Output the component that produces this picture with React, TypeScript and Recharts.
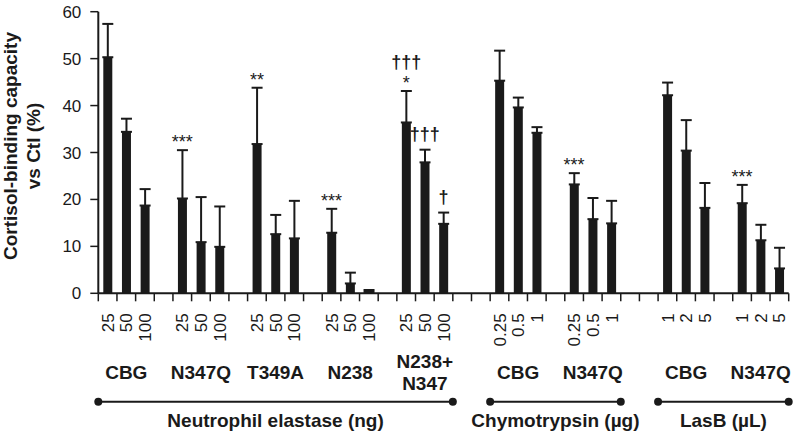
import { Bar, ComposedChart, ErrorBar, Scatter, XAxis, YAxis } from "recharts";

const groups = ["CBG", "N347Q", "T349A", "N238", "N238+\nN347", "CBG", "N347Q", "CBG", "N347Q"];

const doses = [
  ["25", "50", "100"],
  ["25", "50", "100"],
  ["25", "50", "100"],
  ["25", "50", "100"],
  ["25", "50", "100"],
  ["0.25", "0.5", "1"],
  ["0.25", "0.5", "1"],
  ["1", "2", "5"],
  ["1", "2", "5"],
];

const means = [
  [50.3, 34.4, 18.7],
  [20.2, 10.9, 9.9],
  [31.8, 12.6, 11.7],
  [12.9, 2.1, 0.3],
  [36.4, 27.9, 14.8],
  [45.3, 39.6, 34.2],
  [23.2, 15.8, 14.9],
  [42.2, 30.4, 18.2],
  [19.2, 11.3, 5.3],
];

const errors = [
  [7.1, 2.8, 3.5],
  [10.3, 9.6, 8.6],
  [12.0, 4.1, 8.0],
  [5.1, 2.3, 0.4],
  [6.7, 2.7, 2.4],
  [6.4, 2.1, 1.2],
  [2.4, 4.5, 4.8],
  [2.7, 6.5, 5.3],
  [3.9, 3.3, 4.4],
];

const marks = [
  ["", "", ""],
  ["***", "", ""],
  ["**", "", ""],
  ["***", "", ""],
  ["†††\n*", "†††", "†"],
  ["", "", ""],
  ["***", "", ""],
  ["", "", ""],
  ["***", "", ""],
];

const sections = [
  { label: "Neutrophil elastase (ng)", groups: [0, 1, 2, 3, 4] },
  { label: "Chymotrypsin (µg)", groups: [5, 6] },
  { label: "LasB (µL)", groups: [7, 8] },
];

const yTicks = [0, 10, 20, 30, 40, 50, 60];

type Row = {
  k: string;
  dose: string;
  mean?: number;
  errRange?: [number, number];
  capTop?: number;
  mark?: string;
  group?: string;
};

const rows: Row[] = [];
const spans: { label: string; from: number; to: number }[] = [];
const gap = () => rows.push({ k: "g" + rows.length, dose: "" });

sections.forEach((sec, si) => {
  if (si > 0) {
    gap();
    gap();
  }
  const from = rows.length;
  sec.groups.forEach((g, gi) => {
    if (gi > 0) gap();
    doses[g].forEach((d, i) => {
      rows.push({
        k: "s" + rows.length,
        dose: d,
        mean: means[g][i],
        errRange: [0, errors[g][i]],
        capTop: means[g][i] + errors[g][i],
        mark: marks[g][i],
        group: i === 1 ? groups[g] : undefined,
      });
    });
  });
  spans.push({ label: sec.label, from, to: rows.length });
});

const INK = "#1a1a1a";
const FONT = "'Liberation Sans', Arial, Helvetica, sans-serif";

function XTick(props: any) {
  const { x, y, payload, index } = props;
  const row = rows[index];
  const half = payload?.offset ?? 9.33;
  const band = half * 2;
  const left = x - half;
  const span = spans.find((s) => s.from === index);
  const groupLines = row.group ? row.group.split("\n") : [];
  return (
    <g>
      <line x1={left} y1={y} x2={left} y2={y + 8} stroke={INK} strokeWidth={1.5} />
      {index === rows.length - 1 && (
        <line x1={x + half} y1={y} x2={x + half} y2={y + 8} stroke={INK} strokeWidth={1.5} />
      )}
      {row.dose && (
        <text
          x={x}
          y={y + 20}
          dy="0.36em"
          transform={`rotate(-90, ${x}, ${y + 20})`}
          textAnchor="end"
          fontSize={17}
          fill={INK}
        >
          {row.dose}
        </text>
      )}
      {groupLines.length === 1 && (
        <text x={x} y={y + 86} textAnchor="middle" fontSize={19} fontWeight="bold" fill={INK}>
          {groupLines[0]}
        </text>
      )}
      {groupLines.length === 2 &&
        groupLines.map((t, i) => (
          <text key={i} x={x} y={y + 74.4 + i * 22.3} textAnchor="middle" fontSize={19} fontWeight="bold" fill={INK}>
            {t}
          </text>
        ))}
      {span && (() => {
        const x1 = left + (span.from - index) * band;
        const x2 = left + (span.to - index) * band;
        const ly = y + 108.4;
        return (
          <g>
            <line x1={x1} y1={ly} x2={x2} y2={ly} stroke={INK} strokeWidth={2} />
            <circle cx={x1} cy={ly} r={4} fill={INK} />
            <circle cx={x2} cy={ly} r={4} fill={INK} />
            <text x={(x1 + x2) / 2} y={y + 134} textAnchor="middle" fontSize={19} fontWeight="bold" fill={INK}>
              {span.label}
            </text>
          </g>
        );
      })()}
    </g>
  );
}

function Mark(props: any) {
  const { cx, cy, payload } = props;
  const lines = (payload?.mark || "").split("\n").filter(Boolean);
  if (!lines.length || !Number.isFinite(cy)) return <g />;
  const last = lines[lines.length - 1];
  const base = cy - (last.includes("†") ? 10 : 2);
  return (
    <g>
      {lines.map((t: string, i: number) => (
        <text
          key={i}
          x={cx}
          y={base - (lines.length - 1 - i) * 21}
          textAnchor="middle"
          fontSize={18}
          fontWeight={t.includes("†") ? "bold" : "normal"}
          fill={INK}
        >
          {t}
        </text>
      ))}
    </g>
  );
}

function YLabel() {
  return (
    <g fontWeight="bold" fontSize={19} fill={INK}>
      <text x={17} y={146} textAnchor="middle" transform="rotate(-90, 17, 146)">
        Cortisol-binding capacity
      </text>
      <text x={40} y={146} textAnchor="middle" transform="rotate(-90, 40, 146)">
        vs Ctl (%)
      </text>
    </g>
  );
}

export default function App() {
  return (
    <div style={{ position: "absolute", left: 0, top: 0, width: 793, height: 436, background: "#fff", fontFamily: FONT }}>
      <ComposedChart width={793} height={436} data={rows} margin={{ top: 11.7, right: 4.3, left: 0, bottom: 0 }}>
        <XAxis
          dataKey="k"
          type="category"
          interval={0}
          height={142.7}
          tickLine={false}
          tickSize={0}
          tickMargin={0}
          axisLine={{ stroke: INK, strokeWidth: 2 }}
          tick={(p: any) => <XTick {...p} />}
        />
        <YAxis
          domain={[0, 60]}
          ticks={yTicks}
          width={98.3}
          tickSize={8}
          tickMargin={9}
          axisLine={{ stroke: INK, strokeWidth: 2 }}
          tickLine={{ stroke: INK, strokeWidth: 1.5 }}
          tick={{ fill: INK, fontSize: 17 }}
          label={() => <YLabel />}
        />
        <Bar dataKey="mean" fill={INK} barSize={9} isAnimationActive={false}>
          <ErrorBar dataKey="errRange" direction="y" width={5.5} stroke={INK} strokeWidth={2} />
        </Bar>
        <Scatter dataKey="capTop" shape={(p: any) => <Mark {...p} />} isAnimationActive={false} />
      </ComposedChart>
    </div>
  );
}
